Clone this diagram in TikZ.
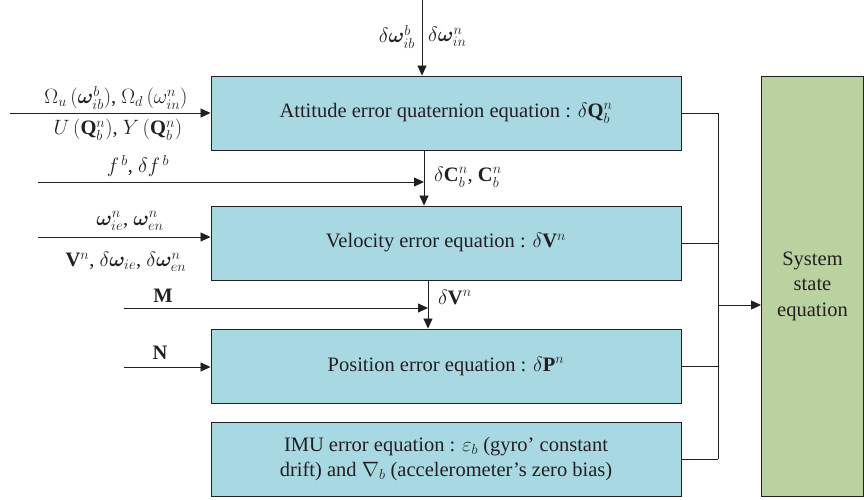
\documentclass[tikz,border=0pt]{standalone}
\usepackage{amsmath}
\usepackage{bm}
\usepackage{fontspec}
\setmainfont{Liberation Serif}
\newfontfamily\diagfont{Liberation Serif}
\usetikzlibrary{arrows.meta}
\definecolor{boxblue}{RGB}{168,216,226}
\definecolor{boxgreen}{RGB}{185,210,160}
\definecolor{ink}{RGB}{35,31,32}
\begin{document}
\begin{tikzpicture}[x=1pt,y=-1pt,
  every node/.style={font=\diagfont\fontsize{20.5}{25.5}\selectfont, text=ink},
  eqbox/.style={draw=ink, line width=0.9pt, fill=boxblue, minimum width=470pt, minimum height=74pt, inner sep=0pt},
  statebox/.style={draw=ink, line width=0.9pt, fill=boxgreen, minimum width=102pt, minimum height=420pt, inner sep=0pt, align=center},
  conn/.style={draw=ink, line width=0.8pt},
  arr/.style={conn, -{Triangle[length=10pt,width=9pt]}},
  lbl/.style={inner sep=1pt}
]
\useasboundingbox (0,0) rectangle (864,500);

\node[eqbox] (att) at (446,113) {Attitude error quaternion equation : $\delta\mathbf{Q}_b^n$};
\node[eqbox] (vel) at (446,243) {Velocity error equation : $\delta\mathbf{V}^n$};
\node[eqbox] (pos) at (446,366) {Position error equation : $\delta\mathbf{P}^n$};
\node[eqbox, align=center] (imu) at (446,459) {IMU error equation : $\varepsilon_b$ (gyro’ constant\\drift) and $\nabla_b$ (accelerometer’s zero bias)};
\node[statebox] (sys) at (812.5,286) {System\\state\\equation};

% top input
\coordinate (topin) at (422,0);
\draw[arr] (topin) -- (topin |- att.north);
\node[lbl, anchor=east] (lw1) at (416,37) {$\delta\bm{\omega}_{ib}^{b}$};
\node[lbl, anchor=west] (lw2) at (427,37) {$\delta\bm{\omega}_{in}^{n}$};

% input 1
\coordinate (in1) at (10,113);
\draw[arr] (in1) -- (att.west);
\node[lbl] (l1a) at (116,98) {$\Omega_u\,(\bm{\omega}_{ib}^{b})$, $\Omega_d\,(\omega_{in}^{n})$};
\node[lbl] (l1b) at (118,130) {$U\,(\mathbf{Q}_b^n)$, $Y\,(\mathbf{Q}_b^n)$};

% f line and C vertical
\coordinate (fin) at (38,182);
\coordinate (fend) at (424,182);
\draw[arr] (fin) -- (fend);
\coordinate (c1) at (424,150);
\draw[arr] (c1 |- att.south) -- (c1 |- vel.north);
\node[lbl] (lf) at (138,166) {$f^{\,b}$, $\delta f^{\,b}$};
\node[lbl, anchor=west] (lc) at (433,177) {$\delta\mathbf{C}_b^n$, $\mathbf{C}_b^n$};

% input 2
\coordinate (in2) at (38,237);
\draw[arr] (in2) -- (in2 -| vel.west);
\node[lbl] (l2a) at (130,221) {$\bm{\omega}_{ie}^{n}$, $\bm{\omega}_{en}^{n}$};
\node[lbl] (l2b) at (126,262) {$\mathbf{V}^n$, $\delta\bm{\omega}_{ie}$, $\delta\bm{\omega}_{en}^{n}$};

% M line and V vertical
\coordinate (min) at (124,308);
\coordinate (mend) at (428,308);
\draw[arr] (min) -- (mend);
\coordinate (c2) at (428,290);
\draw[arr] (c2 |- vel.south) -- (c2 |- pos.north);
\node[lbl] (lm) at (163,296) {$\mathbf{M}$};
\node[lbl, anchor=west] (lv) at (437,297) {$\delta\mathbf{V}^n$};

% N
\coordinate (nin) at (124,367);
\draw[arr] (nin) -- (nin -| pos.west);
\node[lbl] (ln) at (160,353) {$\mathbf{N}$};

% outputs / bus
\coordinate (bus1) at (718,113);
\coordinate (bus4) at (718,459);
\coordinate (busm) at (718,305);
\draw[conn] (att.east) -- (bus1);
\draw[conn] (vel.east) -- (vel.east -| bus1);
\draw[conn] (pos.east) -- (pos.east -| bus1);
\draw[conn] (imu.east) -- (bus4);
\draw[conn] (bus1) -- (bus4);
\draw[arr] (busm) -- (busm -| sys.west);
\end{tikzpicture}
\end{document}
